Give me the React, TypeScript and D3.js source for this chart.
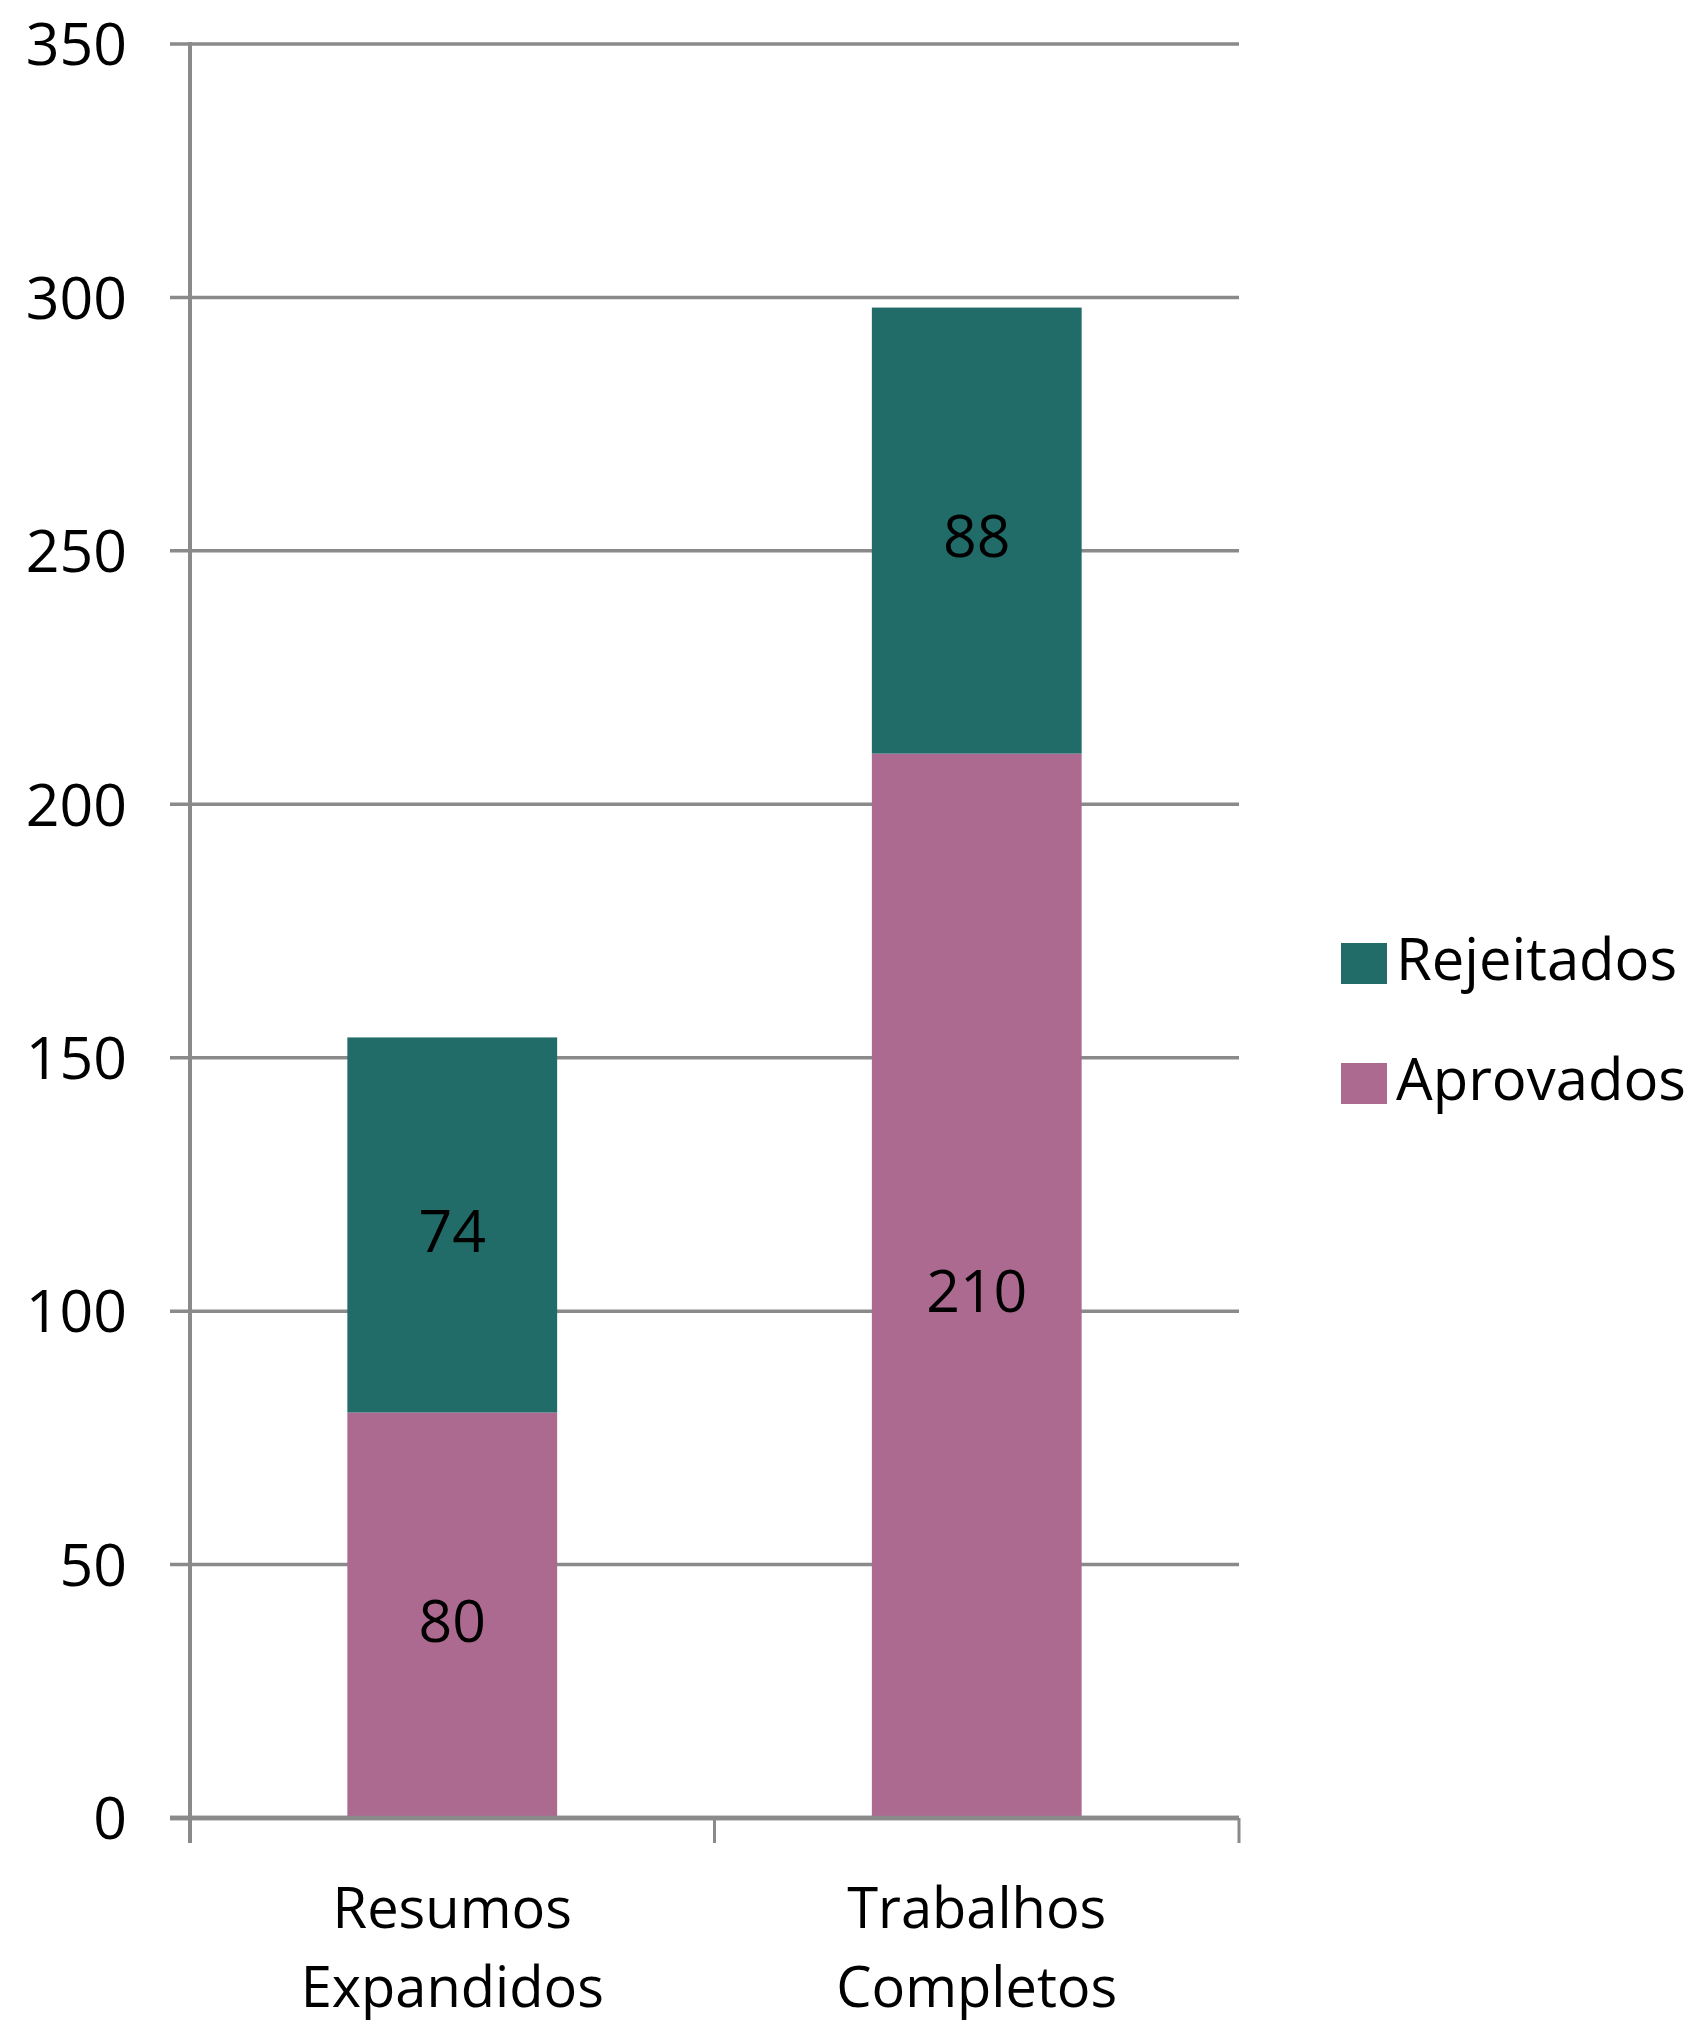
import * as d3 from 'd3';

const categories = ['Resumos\nExpandidos', 'Trabalhos\nCompletos'];
const aprovados = [80, 210];
const rejeitados = [74, 88];
const yTicks = [0, 50, 100, 150, 200, 250, 300, 350];

const SERIES = [
  { name: 'Aprovados', values: aprovados, color: '#ad6a91' },
  { name: 'Rejeitados', values: rejeitados, color: '#216b69' },
];

const W = 1699;
const H = 2020;
const FONT = '"Open Sans", "Noto Sans", sans-serif';
const GRID = '#8a8a8a';

export default function App() {
  const left = 190;
  const right = 1239;
  const top = 44;
  const bottom = 1818;

  const x = d3.scaleBand<string>().domain(categories).range([left, right]).padding(0);
  const y = d3.scaleLinear().domain([0, 350]).range([bottom, top]);
  const bw = x.bandwidth();
  const barW = bw * 0.4;

  const stacked = d3
    .stack<number>()
    .keys(SERIES.map((s) => s.name))
    .value((i, key) => SERIES.find((s) => s.name === key)!.values[i])(categories.map((_, i) => i));

  // legend lists series in reverse (top = last stacked)
  const legend = [...SERIES].reverse();

  return (
    <svg
      width={W}
      height={H}
      style={{ position: 'absolute', left: 0, top: 0, background: '#fff' }}
      fontFamily={FONT}
    >
      {/* gridlines + y ticks */}
      {yTicks.map((t) => (
        <g key={t}>
          <line x1={left - 20} x2={right} y1={y(t)} y2={y(t)} stroke={GRID} strokeWidth={t === 0 ? 4.5 : 3.5} />
          <text x={127} y={y(t)} dy="0.36em" textAnchor="end" fontSize={59} fill="#000">
            {t}
          </text>
        </g>
      ))}

      {/* bars */}
      {stacked.map((layer, li) => (
        <g key={SERIES[li].name} fill={SERIES[li].color}>
          {layer.map((d, i) => (
            <rect
              key={i}
              x={x(categories[i])! + (bw - barW) / 2}
              y={y(d[1])}
              width={barW}
              height={y(d[0]) - y(d[1])}
            />
          ))}
        </g>
      ))}

      {/* data labels */}
      {stacked.map((layer, li) =>
        layer.map((d, i) => (
          <text
            key={`${li}-${i}`}
            x={x(categories[i])! + bw / 2}
            y={(y(d[0]) + y(d[1])) / 2}
            dy="0.45em"
            textAnchor="middle"
            fontSize={59}
            fill="#000"
          >
            {SERIES[li].values[i]}
          </text>
        ))
      )}

      {/* axes */}
      <line x1={left} x2={left} y1={top - 2} y2={bottom + 25} stroke={GRID} strokeWidth={4} />
      <line x1={left - 20} x2={right} y1={bottom} y2={bottom} stroke={GRID} strokeWidth={4.5} />
      {[...categories.map((c) => x(c)!), right].map((v, i) => (
        <line key={i} x1={v} x2={v} y1={bottom} y2={bottom + 25} stroke={GRID} strokeWidth={3} />
      ))}

      {/* category labels */}
      {categories.map((c) => (
        <text key={c} x={x(c)! + bw / 2} textAnchor="middle" fontSize={56} fill="#000">
          {c.split('\n').map((line, k) => (
            <tspan key={k} x={x(c)! + bw / 2} y={1928 + k * 79}>
              {line}
            </tspan>
          ))}
        </text>
      ))}

      {/* legend */}
      {legend.map((s, i) => (
        <g key={s.name} transform={`translate(1341, ${943 + i * 120})`}>
          <rect width={46} height={41} fill={s.color} />
          <text x={55} y={37} fontSize={58} fill="#000">
            {s.name}
          </text>
        </g>
      ))}
    </svg>
  );
}
